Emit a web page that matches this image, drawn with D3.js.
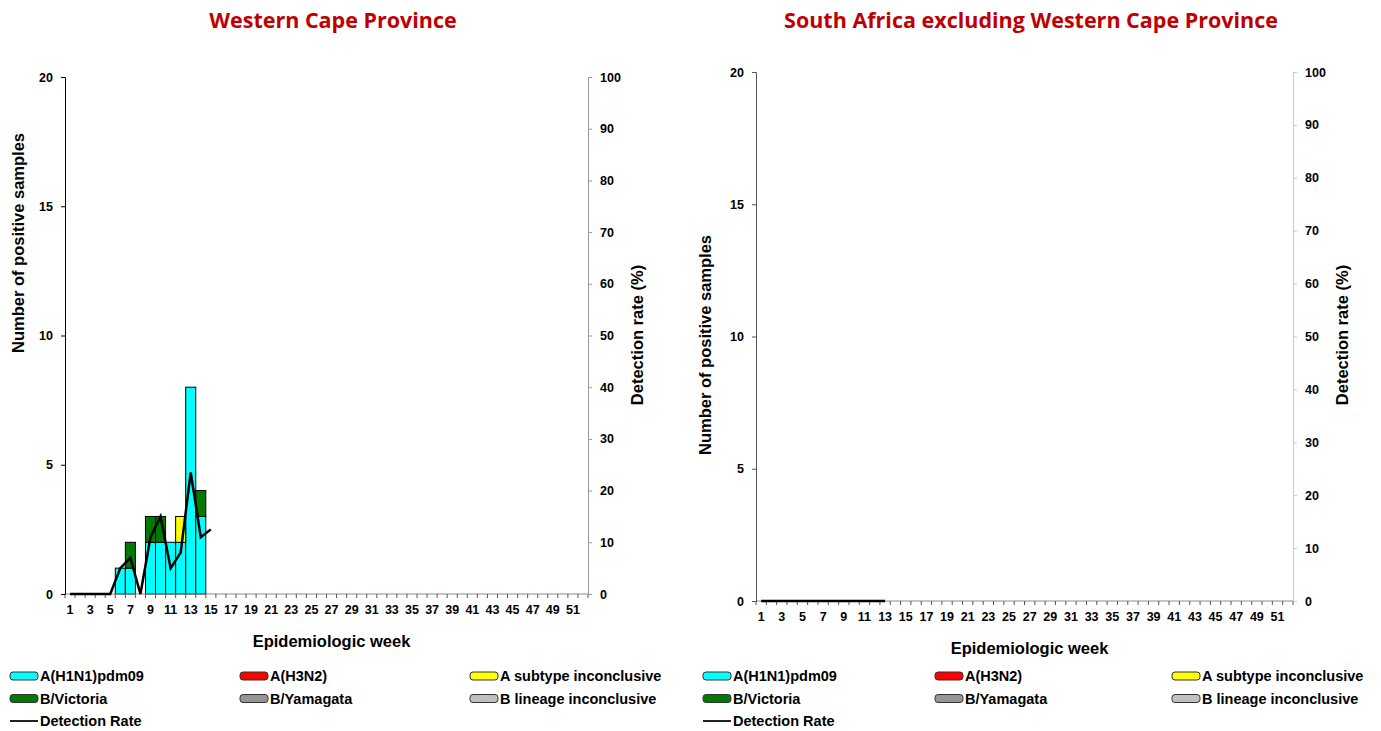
<!DOCTYPE html>
<html>
<head>
<meta charset="utf-8">
<script src="https://cdn.jsdelivr.net/npm/d3@7"></script>
<style>
  body { margin: 0; background: #fff; }
  text { font-family: "Liberation Sans", Arial, sans-serif; font-weight: bold; }
</style>
</head>
<body>
<div id="chart"></div>
<script>
/* Influenza positives by week: Western Cape vs rest of South Africa */

// Categories
const weeks = d3.range(1, 53); // epidemiologic weeks 1..52
const weekLabels = weeks.filter(w => w % 2 === 1);
const countTicks = [0, 5, 10, 15, 20];
const rateTicks = [0, 10, 20, 30, 40, 50, 60, 70, 80, 90, 100];

const seriesNames = ["A(H1N1)pdm09", "A(H3N2)", "A subtype inconclusive",
                     "B/Victoria", "B/Yamagata", "B lineage inconclusive"];
const seriesColors = ["#00ffff", "#ff0000", "#ffff00", "#007a00", "#969696", "#c0c0c0"];

// Western Cape, weeks 1..14
const wcH1N1 = [0, 0, 0, 0, 0, 1, 1, 0, 2, 2, 2, 2, 8, 3];
const wcH3N2 = [0, 0, 0, 0, 0, 0, 0, 0, 0, 0, 0, 0, 0, 0];
const wcAinc = [0, 0, 0, 0, 0, 0, 0, 0, 0, 0, 0, 1, 0, 0];
const wcVic  = [0, 0, 0, 0, 0, 0, 1, 0, 1, 1, 0, 0, 0, 1];
const wcYam  = [0, 0, 0, 0, 0, 0, 0, 0, 0, 0, 0, 0, 0, 0];
const wcBinc = [0, 0, 0, 0, 0, 0, 0, 0, 0, 0, 0, 0, 0, 0];
// detection rate (%), weeks 1..15
const wcRate = [0, 0, 0, 0, 0, 5, 7, 0, 11, 15, 5, 8, 23.5, 11, 12.5];

// South Africa excluding Western Cape, weeks 1..13
const saH1N1 = [0, 0, 0, 0, 0, 0, 0, 0, 0, 0, 0, 0, 0];
const saH3N2 = [0, 0, 0, 0, 0, 0, 0, 0, 0, 0, 0, 0, 0];
const saAinc = [0, 0, 0, 0, 0, 0, 0, 0, 0, 0, 0, 0, 0];
const saVic  = [0, 0, 0, 0, 0, 0, 0, 0, 0, 0, 0, 0, 0];
const saYam  = [0, 0, 0, 0, 0, 0, 0, 0, 0, 0, 0, 0, 0];
const saBinc = [0, 0, 0, 0, 0, 0, 0, 0, 0, 0, 0, 0, 0];
const saRate = [0, 0, 0, 0, 0, 0, 0, 0, 0, 0, 0, 0, 0];

const width = 1381, height = 731;

let svg = d3.select("#chart")
    .append("svg")
    .attr("width", width)
    .attr("height", height);

function drawPanel(p) {
    let g = svg.append("g");

    let x = d3.scaleBand()
        .domain(weeks)
        .range([p.left, p.right])
        .padding(0);

    let yCount = d3.scaleLinear().domain([0, 20]).range([p.bottom, p.top]);
    let yRate = d3.scaleLinear().domain([0, 100]).range([p.bottom, p.top]);

    // build rows for the stack
    let rows = p.series[0].map((v, i) => {
        let r = { week: weeks[i] };
        seriesNames.forEach((name, k) => r[name] = p.series[k][i]);
        return r;
    });
    let stacked = d3.stack().keys(seriesNames)(rows);

    // bars
    g.selectAll(".layer")
        .data(stacked)
        .join("g")
        .attr("fill", (d, i) => seriesColors[i])
        .selectAll("rect")
        .data(d => d.filter(s => s[1] - s[0] > 0))
        .join("rect")
        .attr("x", d => x(d.data.week))
        .attr("width", x.bandwidth())
        .attr("y", d => yCount(d[1]))
        .attr("height", d => yCount(d[0]) - yCount(d[1]))
        .attr("stroke", "#000")
        .attr("stroke-width", 1);

    // x axis: line, boundary ticks, odd-week labels
    g.append("line")
        .attr("x1", p.left).attr("x2", p.right)
        .attr("y1", p.bottom).attr("y2", p.bottom)
        .attr("stroke", "#8c8c8c");
    g.selectAll(".xtick")
        .data(weeks.concat([null]))
        .join("line")
        .attr("x1", d => d === null ? p.right : x(d))
        .attr("x2", d => d === null ? p.right : x(d))
        .attr("y1", p.bottom).attr("y2", p.bottom + 4)
        .attr("stroke", "#555");
    g.selectAll(".xlab")
        .data(weekLabels)
        .join("text")
        .attr("x", d => x(d) + x.bandwidth() / 2)
        .attr("y", p.bottom + 20)
        .attr("text-anchor", "middle")
        .attr("font-size", 12.5)
        .text(d => d);

    // left y axis
    let ya = g.append("g")
        .attr("transform", `translate(${p.left},0)`)
        .call(d3.axisLeft(yCount).tickValues(countTicks).tickSize(4).tickPadding(8));
    ya.select(".domain").attr("stroke", p.leftAxisColor);
    ya.selectAll(".tick line").attr("stroke", p.leftAxisColor);
    ya.selectAll("text").attr("font-size", 12.5).attr("fill", "#000");

    // right y axis
    let yr = g.append("g")
        .attr("transform", `translate(${p.right},0)`)
        .call(d3.axisRight(yRate).tickValues(rateTicks).tickSize(4).tickPadding(8));
    yr.select(".domain").attr("stroke", p.rightAxisColor);
    yr.selectAll(".tick line").attr("stroke", p.rightAxisColor);
    yr.selectAll("text").attr("font-size", 12.5).attr("fill", "#000");

    // detection rate line
    let line = d3.line()
        .x((d, i) => x(weeks[i]) + x.bandwidth() / 2)
        .y(d => yRate(d));
    g.append("path")
        .attr("d", line(p.rate))
        .attr("fill", "none")
        .attr("stroke", "#000")
        .attr("stroke-width", 2.5);

    // titles
    g.append("text")
        .attr("x", p.titleX).attr("y", 28)
        .attr("text-anchor", "middle")
        .attr("fill", "#c00000")
        .style("font-family", "'Open Sans', sans-serif")
        .attr("font-size", 21.5)
        .text(p.title);

    g.append("text")
        .attr("transform", `translate(${p.leftTitleX},${p.leftTitleY}) rotate(-90)`)
        .attr("text-anchor", "middle")
        .attr("font-size", 16.5)
        .text("Number of positive samples");

    g.append("text")
        .attr("transform", `translate(${p.rightTitleX},335) rotate(-90)`)
        .attr("text-anchor", "middle")
        .attr("font-size", 16.5)
        .text("Detection rate (%)");

    g.append("text")
        .attr("x", (p.left + p.right) / 2 + 5)
        .attr("y", p.bottom + 53)
        .attr("text-anchor", "middle")
        .attr("font-size", 16.5)
        .text("Epidemiologic week");

    // legend
    let legendItems = seriesNames.map((name, i) => ({ name: name, color: seriesColors[i], type: "box" }))
        .concat([{ name: "Detection Rate", type: "line" }]);
    let leg = g.selectAll(".leg")
        .data(legendItems)
        .join("g")
        .attr("transform", (d, i) => `translate(${p.legendX[i % 3]},${676 + Math.floor(i / 3) * 22.5})`);
    leg.filter(d => d.type === "box").append("rect")
        .attr("x", 0).attr("y", -4)
        .attr("width", 28).attr("height", 8)
        .attr("rx", 3)
        .attr("fill", d => d.color)
        .attr("stroke", "#333");
    leg.filter(d => d.type === "line").append("line")
        .attr("x1", 0).attr("x2", 28)
        .attr("y1", 0).attr("y2", 0)
        .attr("stroke", "#222").attr("stroke-width", 2);
    leg.append("text")
        .attr("x", 30).attr("y", 5)
        .attr("font-size", 14.5)
        .text(d => d.name);
}

drawPanel({
    title: "Western Cape Province", titleX: 333,
    left: 65, right: 588, top: 77, bottom: 594,
    series: [wcH1N1, wcH3N2, wcAinc, wcVic, wcYam, wcBinc],
    rate: wcRate,
    leftAxisColor: "#000", rightAxisColor: "#999",
    leftTitleX: 24, leftTitleY: 243, rightTitleX: 643,
    legendX: [10, 240, 470]
});

drawPanel({
    title: "South Africa excluding Western Cape Province", titleX: 1031,
    left: 756, right: 1293, top: 72, bottom: 601,
    series: [saH1N1, saH3N2, saAinc, saVic, saYam, saBinc],
    rate: saRate,
    leftAxisColor: "#555", rightAxisColor: "#c8c8c8",
    leftTitleX: 711, leftTitleY: 345, rightTitleX: 1348,
    legendX: [703, 935, 1172]
});
</script>
</body>
</html>
